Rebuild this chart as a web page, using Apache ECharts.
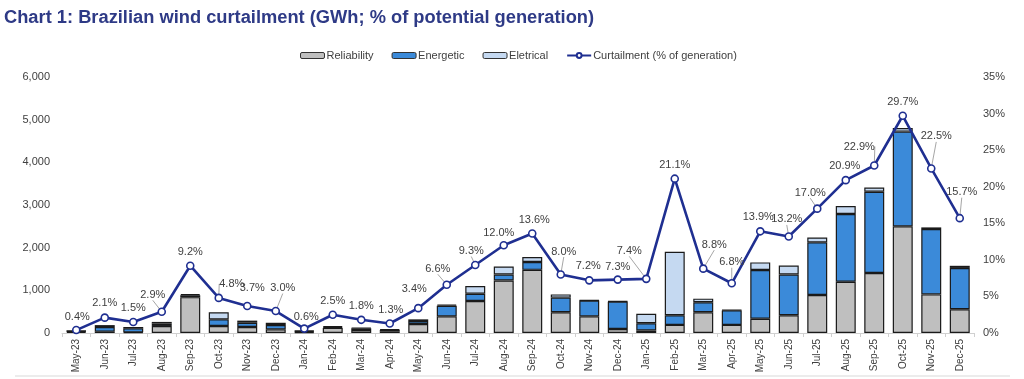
<!DOCTYPE html>
<html>
<head>
<meta charset="utf-8">
<script src="https://cdn.jsdelivr.net/npm/echarts@6/dist/echarts.min.js"></script>
<style>
html,body{margin:0;padding:0;background:#fff;}
#chart{width:1024px;height:379px;}
</style>
</head>
<body>
<div id="chart"></div>
<script>
const categories = ['May-23','Jun-23','Jul-23','Aug-23','Sep-23','Oct-23','Nov-23','Dec-23',
  'Jan-24','Feb-24','Mar-24','Apr-24','May-24','Jun-24','Jul-24','Aug-24','Sep-24','Oct-24','Nov-24','Dec-24',
  'Jan-25','Feb-25','Mar-25','Apr-25','May-25','Jun-25','Jul-25','Aug-25','Sep-25','Oct-25','Nov-25','Dec-25'];
const reliability = [25,30,15,165,840,165,140,85, 20,120,70,40,210,390,750,1230,1480,485,390,95, 60,190,485,190,335,415,890,1200,1405,2500,905,555];
const energetic   = [20,110,95,55,45,155,100,100, 20,20,40,30,70,250,170,140,185,345,370,640, 170,225,235,340,1140,955,1235,1590,1905,2220,1530,970];
const electrical  = [10,45,30,40,25,165,50,55, 15,25,15,15,40,25,180,190,115,75,10,10, 220,1490,85,10,180,210,115,185,100,85,40,50];
const curtailment = [0.4,2.1,1.5,2.9,9.2,4.8,3.7,3.0, 0.6,2.5,1.8,1.3,3.4,6.6,9.3,12.0,13.6,8.0,7.2,7.3, 7.4,21.1,8.8,6.8,13.9,13.2,17.0,20.9,22.9,29.7,22.5,15.7];
const leftTicks = [0,1000,2000,3000,4000,5000,6000];
const rightTicks = [0,5,10,15,20,25,30,35];

// label placement (offset of label centre from point, px) and which ones have leader lines
const labelOffsets = [[1,-13],[0,-15],[0,-14],[-9,-17],[0,-14],[13,-14],[5,-18],[7,-23],
  [2,-12],[0,-14],[0,-14],[1,-14],[-4,-19],[-9,-16],[-4,-14],[-5,-12],[2,-14],[3,-23],[-1,-14],[0,-13],
  [-17,-28],[0,-14],[11,-24],[0,-21],[-2,-14],[-2,-17],[-7,-16],[-1,-14],[-15,-19],[0,-14],[5,-32],[2,-26]];
const leaders = [3,5,7,13,14,17,20,22,23,25,26,28,30,31];

const chart = echarts.init(document.getElementById('chart'), null, {renderer:'canvas'});
const font = 'Liberation Sans, Arial, sans-serif';
const outline = {borderColor:'#1a1a1a', borderWidth:1.2};

const lineData = curtailment.map((v,i)=>({
  value:v,
  labelLine:{show: leaders.indexOf(i)>=0, lineStyle:{color:'#a6a6a6', width:1}}
}));

const option = {
  animation:false,
  backgroundColor:'#fff',
  title:{
    text:'Chart 1: Brazilian wind curtailment (GWh; % of potential generation)',
    left:4, top:9, padding:0,
    textStyle:{fontFamily:font, fontWeight:'bold', fontSize:18.3, color:'#2e3a86'}
  },
  legend:{
    top:45, left:295,
    itemWidth:24, itemHeight:6, itemGap:18,
    textStyle:{fontFamily:font, fontSize:11, color:'#404040', padding:[0,0,0,-3]},
    data:[
      {name:'Reliability', itemStyle:{color:'#bfbfbf', borderColor:'#333', borderWidth:1}},
      {name:'Energetic', itemStyle:{color:'#3b8ad9', borderColor:'#333', borderWidth:1}},
      {name:'Eletrical', itemStyle:{color:'#c5d9f1', borderColor:'#333', borderWidth:1}},
      {name:'Curtailment (% of generation)'}
    ]
  },
  grid:{left:62, right:50, top:77, bottom:46, containLabel:false},
  xAxis:{
    type:'category', data:categories,
    axisLine:{lineStyle:{color:'#d0d0d0'}},
    axisTick:{show:true, length:4, lineStyle:{color:'#d0d0d0'}},
    axisLabel:{rotate:90, fontFamily:font, fontSize:10, color:'#404040', margin:6, interval:0}
  },
  yAxis:[
    {type:'value', min:0, max:6000, interval:1000,
     axisLine:{show:false}, axisTick:{show:false}, splitLine:{show:false},
     axisLabel:{fontFamily:font, fontSize:11, color:'#404040', margin:12,
       formatter:v=>leftTicks.indexOf(v)>=0 ? v.toLocaleString('en-US') : ''}},
    {type:'value', min:0, max:35, interval:5, position:'right',
     axisLine:{show:false}, axisTick:{show:false}, splitLine:{show:false},
     axisLabel:{fontFamily:font, fontSize:11, color:'#404040', margin:9,
       formatter:v=>rightTicks.indexOf(v)>=0 ? v+'%' : ''}}
  ],
  series:[
    {name:'Reliability', type:'bar', stack:'c', data:reliability, barWidth:'70%',
     itemStyle:Object.assign({color:'#bfbfbf'}, outline)},
    {name:'Energetic', type:'bar', stack:'c', data:energetic,
     itemStyle:Object.assign({color:'#3b8ad9'}, outline)},
    {name:'Eletrical', type:'bar', stack:'c', data:electrical,
     itemStyle:Object.assign({color:'#c5d9f1'}, outline)},
    {name:'Curtailment (% of generation)', type:'line', yAxisIndex:1, data:lineData,
     symbol:'circle', symbolSize:7, z:5,
     lineStyle:{color:'#1f2f91', width:2.6},
     itemStyle:{color:'#ffffff', borderColor:'#1f2f91', borderWidth:1.6},
     label:{show:true, position:'top', fontFamily:font, fontSize:11, color:'#404040',
       formatter:p=>p.value.toFixed(1)+'%'},
     labelLine:{show:false, lineStyle:{color:'#a6a6a6', width:1}},
     labelLayout:function(p){
       const o = labelOffsets[p.dataIndex];
       const cx = p.rect.x + p.rect.width/2, cy = p.rect.y + p.rect.height/2;
       return {x: cx + o[0], y: cy + o[1], align:'center', verticalAlign:'middle'};
     }
    }
  ],
  graphic:[
    {type:'rect', shape:{x:15, y:375, width:995, height:2}, style:{fill:'#ececec'}, silent:true}
  ]
};
chart.setOption(option);
</script>
</body>
</html>
